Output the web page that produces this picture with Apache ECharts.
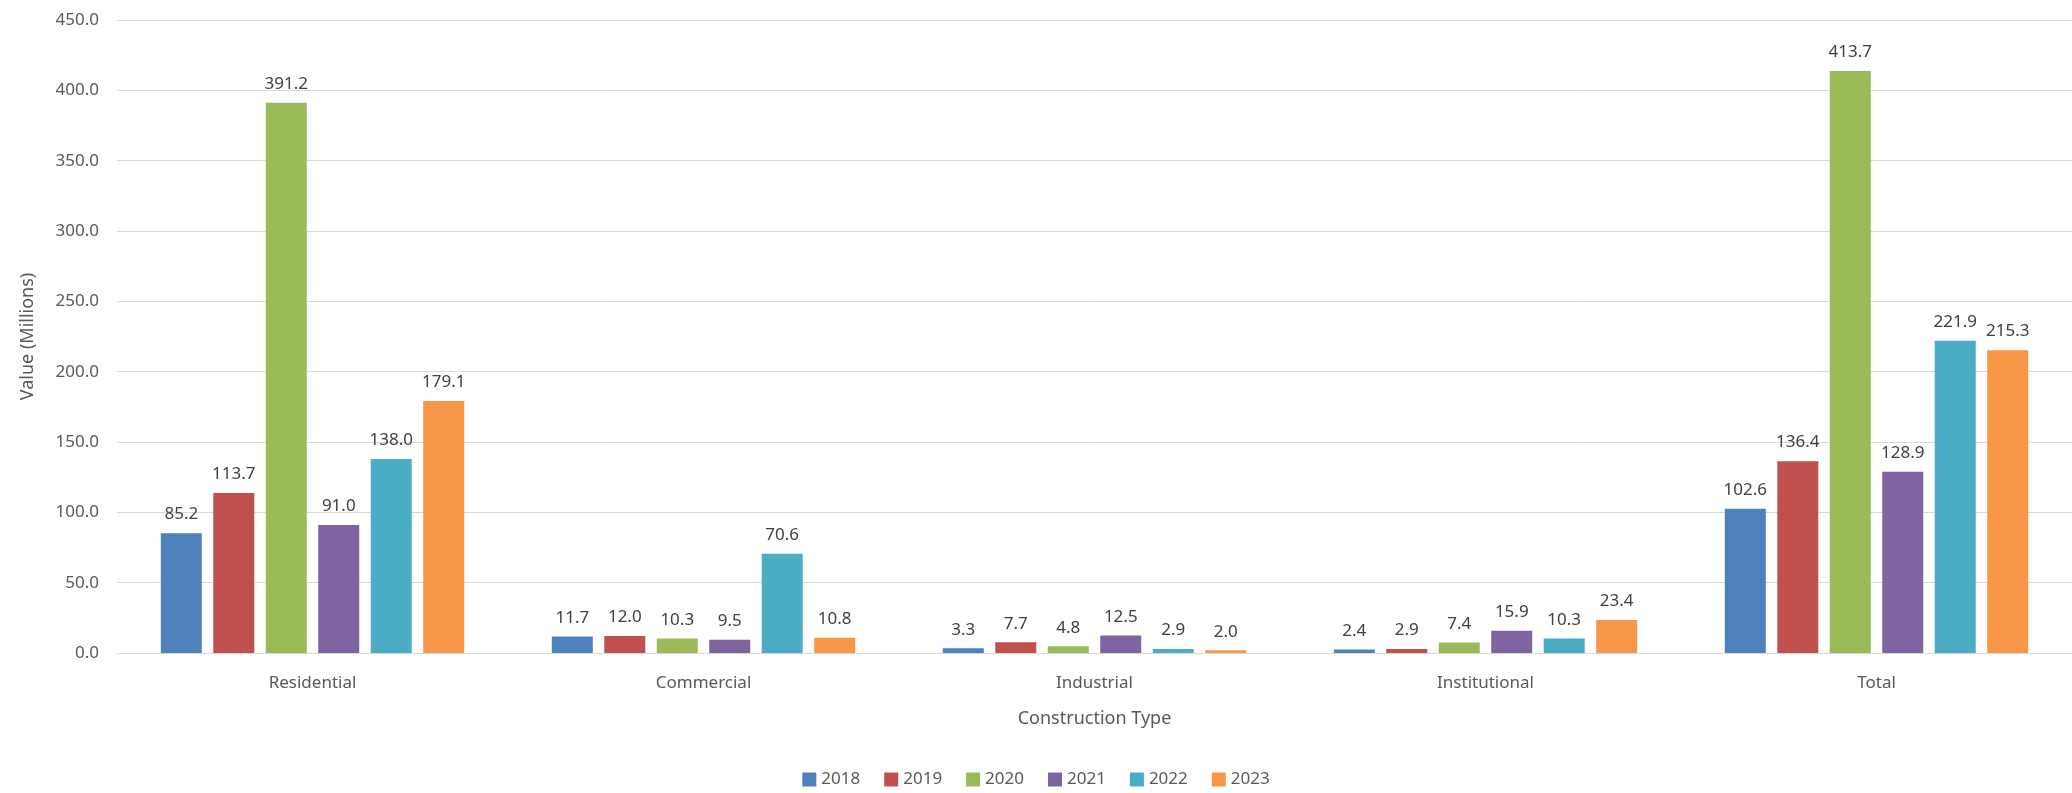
<!DOCTYPE html>
<html>
<head>
<meta charset="utf-8">
<script src="https://cdn.jsdelivr.net/npm/echarts@6/dist/echarts.min.js"></script>
<style>
  html, body { margin: 0; padding: 0; background: #fff; }
  #chart { width: 2072px; height: 793px; }
</style>
</head>
<body>
<div id="chart"></div>
<script>
const categories = ['Residential', 'Commercial', 'Industrial', 'Institutional', 'Total'];
const years = ['2018', '2019', '2020', '2021', '2022', '2023'];
const colors = ['#4F81BD', '#C0504D', '#9BBB59', '#8064A2', '#4BACC6', '#F79646'];

const values2018 = [85.2, 11.7, 3.3, 2.4, 102.6];
const values2019 = [113.7, 12.0, 7.7, 2.9, 136.4];
const values2020 = [391.2, 10.3, 4.8, 7.4, 413.7];
const values2021 = [91.0, 9.5, 12.5, 15.9, 128.9];
const values2022 = [138.0, 70.6, 2.9, 10.3, 221.9];
const values2023 = [179.1, 10.8, 2.0, 23.4, 215.3];

const allValues = [values2018, values2019, values2020, values2021, values2022, values2023];

const font = '"Noto Sans", "Open Sans", sans-serif';
const textColor = '#595959';

const chart = echarts.init(document.getElementById('chart'));

const series = years.map((year, i) => ({
  name: year,
  type: 'bar',
  data: allValues[i],
  barWidth: 41,
  barGap: '28%',
  itemStyle: { color: colors[i] },
  label: {
    show: true,
    position: 'top',
    distance: 10,
    color: '#404040',
    fontFamily: font,
    fontSize: 17,
    formatter: p => p.value.toFixed(1)
  }
}));

chart.setOption({
  animation: false,
  textStyle: { fontFamily: font },
  grid: { left: 117, right: 0, top: 20, bottom: 140 },
  legend: {
    bottom: 0,
    left: 'center',
    itemWidth: 14,
    itemHeight: 14,
    itemGap: 24,
    icon: 'rect',
    textStyle: { color: textColor, fontSize: 17, fontFamily: font }
  },
  xAxis: {
    type: 'category',
    data: categories,
    name: 'Construction Type',
    nameLocation: 'middle',
    nameGap: 57,
    nameTextStyle: { color: textColor, fontSize: 18, fontFamily: font },
    axisLine: { lineStyle: { color: '#D9D9D9', width: 1 } },
    axisTick: { show: false },
    axisLabel: { color: textColor, fontSize: 17, margin: 22, fontFamily: font }
  },
  yAxis: {
    type: 'value',
    min: 0,
    max: 450,
    interval: 50,
    name: 'Value (Millions)',
    nameLocation: 'middle',
    nameGap: 80,
    nameTextStyle: { color: textColor, fontSize: 18, fontFamily: font },
    axisLine: { show: false },
    axisTick: { show: false },
    axisLabel: { color: textColor, fontSize: 17, margin: 18, fontFamily: font, formatter: v => v.toFixed(1) },
    splitLine: { lineStyle: { color: '#D9D9D9', width: 1 } }
  },
  series: series
});
</script>
</body>
</html>
